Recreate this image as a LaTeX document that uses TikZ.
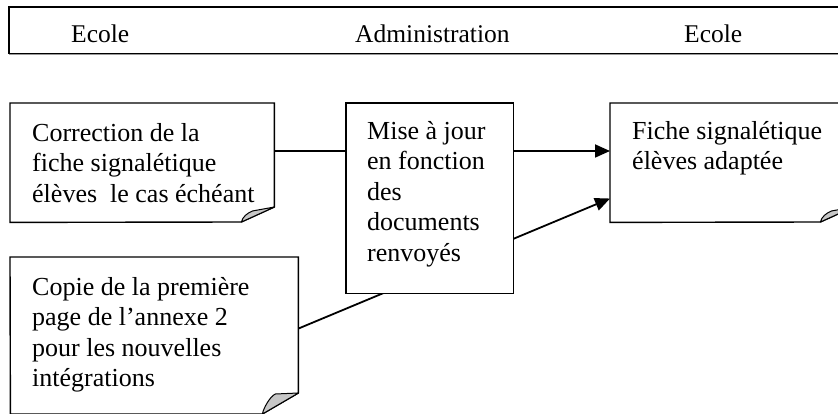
\documentclass[tikz,border=0pt]{standalone}
\usepackage{fontspec}
\setmainfont{Liberation Serif}
\usetikzlibrary{arrows.meta,calc}
\begin{document}
\begin{tikzpicture}[x=1pt,y=-1pt,
  frame/.style={line width=1.4pt},
  conn/.style={line width=1.8pt},
  arr/.style={conn,-{Triangle[length=15pt,width=13pt]}},
  lbl/.style={anchor=north west,inner sep=0pt,font=\fontsize{26}{30.5}\selectfont,align=left},
  hdr/.style={anchor=base west,inner sep=0pt,font=\fontsize{25.5}{30}\selectfont},
  area/.style={inner sep=0pt,anchor=north west},
  flap/.style={fill=black!22,line width=1pt,line join=round}]
\useasboundingbox (0,0) rectangle (838,414);
% header
\node[area,minimum width=850pt,minimum height=46pt] (head) at (9,7) {};
\draw[frame] (head.north east) -- (head.north west) -- (head.south west) -- (head.south east);
\draw[black!40,line width=1pt] ([yshift=-1.5pt]head.south west) -- ([yshift=-1.5pt]head.south east);
\node[hdr] (e1) at (71,43) {Ecole};
\node[hdr] (adm) at (355,43) {Administration};
\node[hdr] (e2) at (684,43) {Ecole};
% boxes (areas)
\node[area,minimum width=264pt,minimum height=119pt] (corr) at (10,103) {};
\node[area,minimum width=288pt,minimum height=170pt] (copie) at (10,257) {};
\node[area,minimum width=167pt,minimum height=190pt] (mise) at (346,103) {};
\node[area,minimum width=243pt,minimum height=119pt] (fiche) at (610,103) {};
% connector behind Mise box
\coordinate (cstart) at ($(copie.north east)!0.42!(copie.south east)$);
\coordinate (fend) at ($(fiche.north west)!0.80!(fiche.south west)$);
\draw[arr] (cstart) -- (fend);
% Correction box
\draw[frame,fill=white] (corr.north west) -- (corr.north east) -- ++(0,104) -- ++(-33,15) -- (corr.south west) -- cycle;
\draw[flap] ($(corr.north east)+(0,104)$) -- ++(-22,4) .. controls +(-5,2) and +(1,-5) .. ++(-11,11) -- cycle;
% Copie box
\draw[frame,fill=white] (copie.north west) -- (copie.north east) -- ++(0,136) -- ++(-36,21) -- ++(-252,0) -- cycle;
\draw[flap] ($(copie.north east)+(0,136)$) -- ++(-23,1) .. controls +(-5,2) and +(1,-6) .. ++(-13,20) -- cycle;
% Mise box
\draw[frame,fill=white] (mise.north west) rectangle (mise.south east);
% Fiche box
\draw[frame,fill=white] (fiche.north west) -- (fiche.north east) -- ++(0,104) -- ++(-33,15) -- (fiche.south west) -- cycle;
\draw[flap] ($(fiche.north east)+(0,104)$) -- ++(-22,4) .. controls +(-5,2) and +(1,-5) .. ++(-11,11) -- cycle;
% connectors
\draw[conn] (corr.east |- 0,151) coordinate (c1) -- (mise.west |- c1);
\draw[arr] (mise.east |- c1) -- (fiche.west |- c1);
% texts (top = first baseline - strut height 21.35)
\node[lbl] (tcorr) at (32,119.6) {\strut Correction de la\\fiche signalétique\\élèves\ \ le cas échéant};
\node[lbl] (tcopie) at (32,273.6) {\strut Copie de la première\\page de l’annexe 2\\pour les nouvelles\\intégrations};
\node[lbl] (tmise) at (367,117.6) {\strut Mise à jour\\en fonction\\des\\documents\\renvoyés};
\node[lbl] (tfiche) at (632,117.6) {\strut Fiche signalétique\\élèves adaptée};
\end{tikzpicture}
\end{document}
